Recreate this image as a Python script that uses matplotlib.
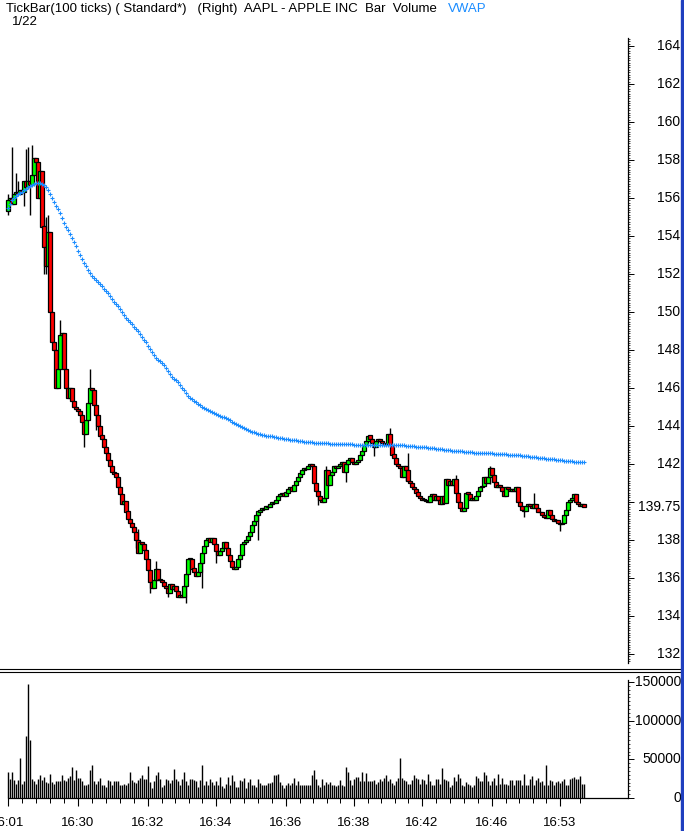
'''
AAPL tick bars (100 ticks) with volume and VWAP, TradeStation style
'''

import matplotlib
matplotlib.use('Agg')
import matplotlib.pyplot as plt
from matplotlib.lines import Line2D
from matplotlib.patches import Rectangle
from matplotlib.ticker import MultipleLocator
from matplotlib.transforms import blended_transform_factory
import numpy as np

W, H = 684, 831
plt.rcParams['font.family'] = ['Liberation Sans', 'DejaVu Sans']

# ---- data (one value per tick bar) ----
first_open = 155.3
closes = [
    155.9, 156.0, 155.7, 156.2, 156.3, 156.2, 156.4, 156.3, 156.9, 156.6,
    156.9, 156.7, 157.2, 158.1, 157.9, 156.0, 157.4, 154.5, 153.4, 152.4,
    154.2, 150.0, 148.4, 148.0, 146.0, 147.0, 148.8, 148.9, 147.0, 146.0,
    145.5, 146.0, 145.3, 145.0, 144.9, 144.8, 144.6, 144.2, 143.6, 144.3,
    145.2, 146.0, 145.9, 145.1, 144.6, 144.0, 143.5, 143.3, 142.9, 142.6,
    142.2, 141.9, 141.6, 141.5, 141.3, 140.8, 140.4, 139.9, 140.05, 139.5,
    139.1, 138.9, 138.7, 138.4, 138.0, 137.3, 137.9, 137.8, 137.5, 137.0,
    136.4, 135.8, 135.5, 135.9, 136.5, 135.9, 135.9, 135.8, 135.6, 135.5,
    135.2, 135.7, 135.4, 135.6, 135.3, 135.0, 135.1, 135.0, 135.6, 136.2,
    137.0, 137.0, 136.5, 136.3, 136.1, 136.3, 136.8, 137.3, 137.7, 138.0,
    138.1, 137.9, 138.1, 137.8, 137.4, 137.2, 137.4, 137.6, 137.9, 137.6,
    137.2, 136.9, 136.6, 136.5, 136.6, 137.0, 137.2, 137.8, 137.9, 138.0,
    138.2, 138.4, 138.8, 139.0, 139.3, 139.5, 139.6, 139.7, 139.65, 139.8,
    139.75, 139.9, 140.0, 139.95, 140.1, 140.3, 140.4, 140.45, 140.3, 140.5,
    140.7, 140.8, 140.6, 140.9, 141.1, 141.3, 141.5, 141.7, 141.8, 141.75,
    141.9, 142.0, 141.9, 141.0, 140.6, 140.3, 140.1, 140.0, 140.2, 141.7,
    140.9, 141.4, 141.6, 141.9, 141.8, 141.9, 142.0, 142.1, 141.6, 142.0,
    142.2, 142.3, 142.1, 142.0, 142.1, 142.2, 142.5, 142.7, 143.0, 143.2,
    143.5, 143.3, 143.1, 142.9, 143.2, 143.3, 143.2, 143.1, 143.0, 143.05,
    143.6, 143.0, 142.5, 142.3, 142.0, 141.9, 141.8, 141.3, 141.9, 141.7,
    141.1, 141.0, 140.8, 140.7, 140.5, 140.3, 140.2, 140.1, 140.1, 140.05,
    140.0, 140.3, 140.4, 140.1, 140.3, 140.1, 139.9, 140.3, 139.95, 141.2,
    140.9, 141.1, 140.9, 141.2, 140.5, 140.0, 139.7, 139.55, 139.7, 140.5,
    140.4, 140.1, 140.2, 140.1, 140.3, 140.6, 140.8, 140.85, 141.3, 141.0,
    141.3, 141.8, 141.4, 141.05, 140.8, 140.9, 140.8, 140.6, 140.3, 140.8,
    140.7, 140.6, 140.7, 140.6, 140.8, 140.0, 139.8, 139.6, 139.55, 139.8,
    139.9, 139.8, 139.7, 139.9, 139.7, 139.5, 139.45, 139.3, 139.2, 139.15,
    139.6, 139.3, 139.1, 139.0, 139.05, 138.9, 138.85, 138.9, 139.3, 139.6,
    140.0, 140.1, 140.2, 140.4, 140.0, 139.9, 139.8, 139.9, 139.75,
]

# bars whose wicks stick out past the body
high_wicks = {0: 156.2, 2: 158.7, 4: 157.3, 5: 156.9, 9: 158.6, 10: 158.7,
              12: 158.8, 18: 154.9, 19: 155.0, 20: 155.1, 26: 149.6, 41: 147.0,
              65: 138.6, 74: 136.9, 159: 141.9, 191: 143.9, 200: 142.6,
              224: 141.4, 241: 141.9, 263: 140.5}
low_wicks = {0: 155.1, 8: 155.6, 11: 155.1, 18: 152.0, 19: 152.0, 38: 142.9,
             44: 143.8, 64: 137.6, 71: 135.2, 80: 135.0, 89: 134.7, 97: 135.5,
             104: 136.8, 125: 138.0, 155: 139.85, 169: 141.05, 183: 142.4,
             199: 141.1, 241: 140.95, 258: 139.2, 276: 138.5}

vwap = [
    155.45, 155.7, 155.9, 156.0, 156.1, 156.2, 156.25, 156.3, 156.4, 156.5,
    156.6, 156.65, 156.7, 156.75, 156.78, 156.8, 156.8, 156.75, 156.7, 156.6,
    156.4, 156.2, 156.0, 155.8, 155.6, 155.4, 155.2, 154.95, 154.7, 154.5,
    154.3, 154.1, 153.9, 153.7, 153.5, 153.2, 153.0, 152.8, 152.6, 152.4,
    152.2, 152.05, 151.9, 151.8, 151.7, 151.6, 151.5, 151.35, 151.2, 151.1,
    151.0, 150.85, 150.7, 150.55, 150.4, 150.3, 150.15, 150.0, 149.85, 149.7,
    149.6, 149.45, 149.35, 149.2, 149.1, 149.0, 148.85, 148.7, 148.55, 148.4,
    148.2, 148.05, 147.9, 147.75, 147.6, 147.5, 147.4, 147.3, 147.2, 147.05,
    146.9, 146.75, 146.6, 146.5, 146.4, 146.3, 146.15, 146.0, 145.9, 145.75,
    145.6, 145.5, 145.4, 145.3, 145.25, 145.15, 145.1, 145.0, 144.95, 144.9,
    144.85, 144.8, 144.75, 144.7, 144.65, 144.6, 144.55, 144.5, 144.45, 144.4,
    144.35, 144.3, 144.2, 144.15, 144.1, 144.05, 144.0, 143.95, 143.9, 143.85,
    143.8, 143.75, 143.7, 143.7, 143.65, 143.6, 143.6, 143.55, 143.55, 143.5,
    143.5, 143.45, 143.45, 143.4, 143.4, 143.38, 143.35, 143.35, 143.32, 143.3,
    143.3, 143.28, 143.26, 143.25, 143.24, 143.22, 143.2, 143.2, 143.18, 143.17,
    143.16, 143.15, 143.14, 143.13, 143.12, 143.11, 143.1, 143.1, 143.09, 143.08,
    143.08, 143.07, 143.07, 143.06, 143.06, 143.05, 143.05, 143.05, 143.04, 143.04,
    143.03, 143.03, 143.03, 143.02, 143.02, 143.02, 143.01, 143.01, 143.0, 143.0,
    143.0, 143.0, 143.0, 143.0, 143.0, 143.0, 143.0, 143.0, 143.0, 143.0,
    143.0, 143.0, 143.0, 143.0, 143.0, 142.99, 142.99, 142.98, 142.98, 142.97,
    142.96, 142.95, 142.94, 142.93, 142.92, 142.91, 142.9, 142.89, 142.88, 142.87,
    142.86, 142.85, 142.84, 142.82, 142.81, 142.8, 142.79, 142.77, 142.76, 142.75,
    142.73, 142.72, 142.71, 142.7, 142.69, 142.68, 142.67, 142.66, 142.65, 142.64,
    142.63, 142.62, 142.61, 142.6, 142.6, 142.59, 142.59, 142.58, 142.58, 142.57,
    142.57, 142.56, 142.56, 142.55, 142.55, 142.54, 142.54, 142.53, 142.52, 142.51,
    142.5, 142.49, 142.48, 142.47, 142.47, 142.46, 142.45, 142.44, 142.42, 142.41,
    142.4, 142.39, 142.37, 142.36, 142.35, 142.34, 142.32, 142.31, 142.3, 142.28,
    142.27, 142.26, 142.25, 142.24, 142.22, 142.21, 142.2, 142.19, 142.18, 142.17,
    142.16, 142.15, 142.14, 142.13, 142.12, 142.12, 142.11, 142.1, 142.1,
]

volumes = [
    33600, 24000, 33600, 22800, 18500, 22800, 52000, 18500, 21600, 80000,
    148000, 75000, 24000, 21600, 18500, 25000, 29300, 22800, 27200, 20700,
    19400, 31500, 20700, 18500, 21600, 21600, 21600, 30000, 22800, 21600,
    25900, 28000, 40000, 22800, 35800, 25900, 25900, 21600, 16400, 16400,
    18500, 35800, 42200, 21600, 18500, 21600, 25900, 16400, 16400, 14200,
    23700, 21600, 17200, 21600, 21600, 21600, 17200, 17200, 18500, 17200,
    19800, 33600, 22800, 20700, 19400, 22800, 25900, 29300, 25000, 24100,
    41400, 20700, 13400, 21600, 29300, 33600, 24100, 14200, 16400, 25000,
    22800, 19800, 22800, 37900, 25000, 21600, 16400, 25000, 33600, 21600,
    17200, 25000, 24100, 22800, 21600, 14200, 22800, 42200, 16400, 21600,
    16400, 25000, 20700, 16400, 21600, 16400, 27200, 15500, 12900, 18500,
    27200, 16400, 29300, 21600, 14200, 14200, 22800, 21600, 25900, 12900,
    20700, 25000, 16400, 17200, 14200, 25000, 19800, 17200, 17200, 16400,
    19800, 19800, 20700, 29300, 29300, 31500, 20700, 16400, 12900, 16400,
    19800, 17200, 19800, 25900, 16400, 21600, 16400, 16400, 17200, 16400,
    16400, 16400, 29300, 35800, 24100, 16400, 14200, 25000, 16400, 20700,
    18500, 20700, 16400, 16400, 15100, 16400, 22800, 16400, 15500, 40000,
    33600, 22800, 16400, 24100, 27200, 27200, 21600, 33600, 21600, 32800,
    21600, 21600, 21600, 22800, 18500, 20700, 25000, 21600, 25900, 29300,
    21600, 25000, 19800, 16400, 21600, 25900, 51700, 25900, 22800, 21600,
    18500, 18500, 22800, 30200, 25900, 24100, 18500, 24100, 22800, 18500,
    31500, 21600, 17200, 16400, 24100, 25000, 18500, 38800, 24100, 22800,
    21600, 14200, 16400, 27200, 21600, 31500, 25900, 17200, 15500, 20700,
    18500, 16400, 14200, 16400, 28400, 25900, 21600, 21600, 33600, 30200,
    21600, 17200, 21600, 25900, 17200, 31500, 18500, 25900, 18500, 18500,
    17200, 22800, 22800, 17200, 23700, 22800, 22800, 17200, 31500, 16400,
    17200, 25000, 28400, 17200, 22800, 25900, 20700, 21600, 17200, 43100,
    17200, 22800, 21600, 16400, 20700, 21600, 19800, 21600, 25000, 16400,
    16400, 25000, 25900, 27200, 25000, 24100, 28400, 18500, 18000,
]

price_ticks = [132, 134, 136, 138, 142, 144, 146, 148, 150, 152, 154, 156, 158, 160, 162, 164]
last_price = 139.75
vol_ticks = [0, 50000, 100000, 150000]
vol_labels = ['0', '50000', '100000', '150000']
time_pos = [0, 35, 70, 104, 139, 173, 207, 242, 276]
time_labels = ['16:01', '16:30', '16:32', '16:34', '16:36', '16:38', '16:42', '16:46', '16:53']

title = 'TickBar(100 ticks) ( Standard*)   (Right)  AAPL - APPLE INC  Bar  Volume'
subtitle = '1/22'


def px_axes(fig, x0, y0, x1, y1):
    # place an axes by pixel box (top-left origin)
    return fig.add_axes([x0 / W, 1 - y1 / H, (x1 - x0) / W, (y1 - y0) / H])


n = min(len(closes), len(vwap), len(volumes))
closes = closes[:n]
vwap = vwap[:n]
volumes = volumes[:n]
idx = np.arange(n)
opens = [first_open] + closes[:-1]
highs = [high_wicks.get(i, max(o, c)) for i, (o, c) in enumerate(zip(opens, closes))]
lows = [low_wicks.get(i, min(o, c)) for i, (o, c) in enumerate(zip(opens, closes))]

fig = plt.figure(figsize=(W / 100, H / 100), dpi=100)
fig.patch.set_facecolor('white')

# ---- price panel ----
ax = px_axes(fig, 0, 38, 628, 663)
ax.set_xlim(-4, 310)
ax.set_ylim(164 - (663 - 46) / 19, 164 + 8 / 19)
for s in ['left', 'top', 'bottom']:
    ax.spines[s].set_visible(False)
ax.spines['right'].set_linewidth(0.9)
ax.yaxis.tick_right()
ax.set_yticks(price_ticks + [140])
ax.yaxis.set_minor_locator(MultipleLocator(0.125))
ax.tick_params(axis='y', which='major', direction='out', length=4, width=0.7, labelright=False)
ax.tick_params(axis='y', which='minor', direction='out', length=1.6, width=0.5)
ax.set_xticks([])

ax.vlines(idx, lows, highs, color='black', lw=1.0, zorder=1)
bottoms = [min(o, c) for o, c in zip(opens, closes)]
heights = [max(abs(c - o), 0.04) for o, c in zip(opens, closes)]
colors = ['#00ff00' if c >= o else '#ff0000' for o, c in zip(opens, closes)]
ax.bar(idx, heights, bottom=bottoms, width=2.3, color=colors,
       edgecolor='black', linewidth=0.9, zorder=2)
ax.plot(idx, vwap, ls='none', marker='+', ms=3.0, mew=0.8, color='#1a8cff', zorder=3)

trans = blended_transform_factory(ax.transAxes, ax.transData)
for v in price_ticks:
    ax.text(680 / 628, v, str(v), ha='right', va='center', fontsize=10, transform=trans)
ax.text(680 / 628, last_price, '%.2f' % last_price, ha='right', va='center',
        fontsize=10, transform=trans)

# ---- volume panel ----
axv = px_axes(fig, 0, 680, 628, 798)
axv.set_xlim(-4, 310)
axv.set_ylim(0, 150000 + 2 / 0.7733 * 1000)
for s in ['left', 'top']:
    axv.spines[s].set_visible(False)
axv.spines['right'].set_linewidth(0.9)
axv.spines['bottom'].set_linewidth(0.9)
axv.spines['bottom'].set_bounds(0, 310)
axv.vlines(idx, 0, volumes, color='black', lw=1.0)

axv.yaxis.tick_right()
axv.set_yticks(vol_ticks)
axv.yaxis.set_minor_locator(MultipleLocator(5000))
axv.tick_params(axis='y', which='major', direction='out', length=4, width=0.7, labelright=False)
axv.tick_params(axis='y', which='minor', direction='out', length=1.6, width=0.5)
vtrans = blended_transform_factory(axv.transAxes, axv.transData)
for v, lab in zip(vol_ticks, vol_labels):
    axv.text(681 / 628, v, lab, ha='right', va='center', fontsize=10, transform=vtrans)

axv.set_xticks(time_pos)
minor = []
for a, b in zip(time_pos[:-1], time_pos[1:]):
    minor += list(np.linspace(a, b, 6)[1:-1])
minor.append(286)
axv.set_xticks(minor, minor=True)
axv.tick_params(axis='x', which='major', direction='out', length=6, width=0.8, labelbottom=False)
axv.tick_params(axis='x', which='minor', direction='out', length=3.5, width=0.7)
ttrans = blended_transform_factory(axv.transData, axv.transAxes)
for p, lab in zip(time_pos, time_labels):
    axv.text(p, -(823 - 798) / 118, lab, ha='center', va='center', fontsize=9.5, transform=ttrans)

# ---- frame pieces ----
for y in (669, 672):
    fig.add_artist(Line2D([0, 681 / W], [1 - y / H, 1 - y / H], color='black', lw=0.8))
fig.add_artist(Rectangle((681 / W, 0), 3 / W, 1, transform=fig.transFigure,
                         color='#1f3fbf', zorder=10))

t = fig.text(6 / W, 1 - 9 / H, title, fontsize=9.5, va='center')
fig.canvas.draw()
bb = t.get_window_extent()
fig.text((bb.x1 + 11) / W, 1 - 9 / H, 'VWAP', fontsize=9.5, va='center', color='#1a8cff')
fig.text(12 / W, 1 - 22 / H, subtitle, fontsize=9.5, va='center')

fig.savefig('out.png', dpi=100)
